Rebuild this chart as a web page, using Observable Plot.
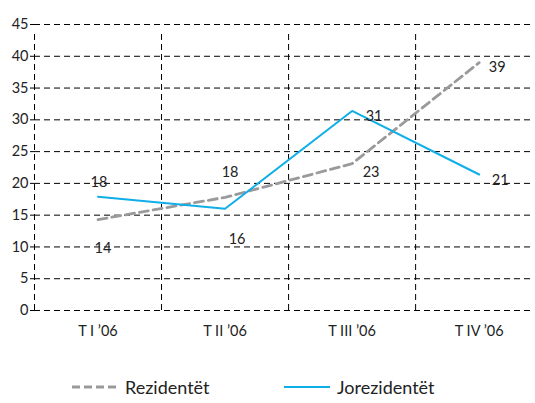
<!DOCTYPE html>
<html>
<head>
<meta charset="utf-8">
<script src="https://cdn.jsdelivr.net/npm/d3@7"></script>
<script src="https://cdn.jsdelivr.net/npm/@observablehq/plot@0.6"></script>
<style>
  html, body { margin: 0; padding: 0; background: #fff; }
  #wrap { position: relative; width: 535px; height: 403px; font-family: "Lato", "DejaVu Sans", sans-serif; }
  #legend { position: absolute; left: 0; top: 374px; width: 535px; height: 26px; font-size: 18px; color: #222; }
  .item { position: absolute; top: 0; display: flex; align-items: center; height: 26px; }
  .item svg { margin-right: 7px; }
</style>
</head>
<body>
<div id="wrap">
  <div id="chart"></div>
  <div id="legend"></div>
</div>
<script>
const quarters = ["T I ’06", "T II ’06", "T III ’06", "T IV ’06"];
const rezidentet = [14.3, 17.8, 23.1, 39.0];
const jorezidentet = [17.9, 16.0, 31.4, 21.4];
const seriesNames = ["Rezidentët", "Jorezidentët"];
const yTicks = [0, 5, 10, 15, 20, 25, 30, 35, 40, 45];

const GRAY = "#9a9a9c";
const BLUE = "#10aee8";
const FS = 14.5;

const rez = quarters.map((q, i) => ({i, q, v: rezidentet[i]}));
const jor = quarters.map((q, i) => ({i, q, v: jorezidentet[i]}));
const bounds = [-0.5, 0.5, 1.5, 2.5];

function lab(data, i, dx, dy) {
  return Plot.text([data[i]], {x: "i", y: "v", text: d => d3.format("d")(Math.round(d.v)), dx, dy,
    fontSize: FS, fill: "#222"});
}

const chart = Plot.plot({
  width: 535,
  height: 360,
  marginTop: 24,
  marginBottom: 50,
  marginLeft: 34,
  marginRight: 3,
  style: {fontFamily: "Lato, 'DejaVu Sans', sans-serif", background: "#fff"},
  x: {domain: [-0.5, 3.42], axis: null},
  y: {domain: [0, 45], axis: null},
  marks: [
    Plot.ruleY(yTicks, {x1: -0.5, x2: 3.42, stroke: "#000", strokeWidth: 1, strokeDasharray: "6,4"}),
    Plot.ruleX(bounds, {y1: 0, y2: 45, stroke: "#000", strokeWidth: 1, strokeDasharray: "6,4", insetBottom: -6}),
    Plot.axisY(yTicks, {tickSize: 4, tickPadding: 2, fontSize: FS, stroke: "#000", fill: "#222", label: null}),
    Plot.axisX([0, 1, 2, 3], {tickSize: 0, tickPadding: 15, fontSize: FS, fill: "#222", label: null,
      tickFormat: i => quarters[i]}),
    Plot.line(rez, {x: "i", y: "v", stroke: GRAY, strokeWidth: 2.8, strokeDasharray: "9,5"}),
    Plot.line(jor, {x: "i", y: "v", stroke: BLUE, strokeWidth: 2}),
    lab(rez, 0, 5, 29),
    lab(rez, 1, 5, -25),
    lab(rez, 2, 19, 9),
    lab(rez, 3, 18, 5),
    lab(jor, 0, 1, -14),
    lab(jor, 1, 12, 31),
    lab(jor, 2, 22, 5),
    lab(jor, 3, 21, 6)
  ]
});
document.getElementById("chart").appendChild(chart);

const legend = document.getElementById("legend");
const items = [
  {name: seriesNames[0], color: GRAY, dash: "8,4", w: 3, left: 72},
  {name: seriesNames[1], color: BLUE, dash: null, w: 2, left: 284}
];
items.forEach(it => {
  const div = document.createElement("div");
  div.className = "item";
  div.style.left = it.left + "px";
  div.innerHTML = `<svg width="46" height="10"><line x1="0" y1="5" x2="46" y2="5" stroke="${it.color}" stroke-width="${it.w}" ${it.dash ? `stroke-dasharray="${it.dash}"` : ""}/></svg><span>${it.name}</span>`;
  legend.appendChild(div);
});
</script>
</body>
</html>
